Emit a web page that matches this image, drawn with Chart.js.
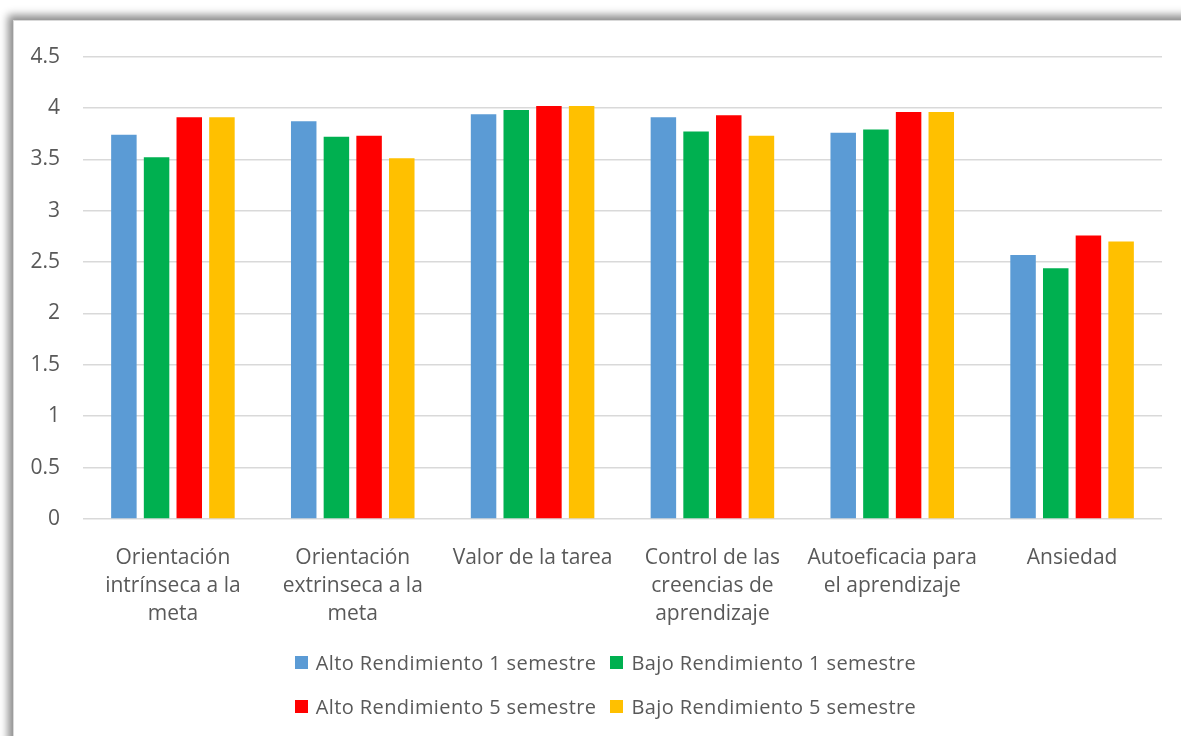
<!DOCTYPE html>
<html>
<head>
<meta charset="utf-8">
<script src="https://cdn.jsdelivr.net/npm/chart.js@4.4.1/dist/chart.umd.min.js"></script>
<style>
  html, body { margin: 0; padding: 0; background: #fff; }
  body { width: 1181px; height: 736px; overflow: hidden; position: relative; }
  #box {
    position: absolute; left: 13px; top: 20px; width: 1200px; height: 760px;
    border: 1px solid #d9d9d9; background: #fff;
    box-shadow: -5px -5px 8px rgba(0,0,0,0.45);
  }
  #myChart { position: absolute; left: 0; top: 0; }
  #legend {
    position: absolute; left: -14px; top: 619px; width: 1211px;
    font-family: "Open Sans", sans-serif; font-size: 20px; letter-spacing: 0.4px; color: #595959;
  }
  .row { display: flex; justify-content: center; height: 44px; align-items: center; }
  .item { display: flex; align-items: center; margin: 0 7px; }
  .sw { width: 13px; height: 13px; margin-right: 8px; }
</style>
</head>
<body>
<div id="box">
  <canvas id="myChart" width="1167" height="620"></canvas>
  <div id="legend"></div>
</div>
<script>
var categories = [
    ['Orientación', 'intrínseca a la', 'meta'],
    ['Orientación', 'extrinseca a la', 'meta'],
    'Valor de la tarea',
    ['Control de las', 'creencias de', 'aprendizaje'],
    ['Autoeficacia para', 'el aprendizaje'],
    'Ansiedad'
];
var seriesNames = [
    'Alto Rendimiento 1 semestre',
    'Bajo Rendimiento 1 semestre',
    'Alto Rendimiento 5 semestre',
    'Bajo Rendimiento 5 semestre'
];
var altoSem1 = [3.74, 3.87, 3.94, 3.91, 3.76, 2.57];
var bajoSem1 = [3.52, 3.72, 3.98, 3.77, 3.79, 2.44];
var altoSem5 = [3.91, 3.73, 4.02, 3.93, 3.96, 2.76];
var bajoSem5 = [3.91, 3.51, 4.02, 3.73, 3.96, 2.70];
var colors = ['#5B9BD5', '#00B050', '#FF0000', '#FFC000'];

var values = [altoSem1, bajoSem1, altoSem5, bajoSem5];
var datasets = values.map(function(v, i) {
    return {
        label: seriesNames[i],
        data: v,
        backgroundColor: colors[i],
        categoryPercentage: 0.727,
        barPercentage: 0.78
    };
});

var textColor = '#595959';
var ctx = document.getElementById('myChart').getContext('2d');
var chart = new Chart(ctx, {
    type: 'bar',
    data: { labels: categories, datasets: datasets },
    options: {
        responsive: false,
        animation: false,
        devicePixelRatio: 1,
        layout: { padding: { left: 0, right: 19, top: 28, bottom: 0 } },
        plugins: { legend: { display: false }, tooltip: { enabled: false } },
        scales: {
            x: {
                grid: { display: false },
                border: { display: false },
                ticks: {
                    color: textColor,
                    padding: 17,
                    maxRotation: 0,
                    autoSkip: false,
                    font: { family: 'Open Sans', size: 21, lineHeight: '28px' }
                },
                afterFit: function(s) { s.height = 122; }
            },
            y: {
                min: 0, max: 4.5,
                border: { display: false },
                grid: { color: '#d9d9d9', lineWidth: 1.5, drawTicks: false },
                ticks: {
                    stepSize: 0.5,
                    color: textColor,
                    padding: 23,
                    font: { family: 'Open Sans', size: 21 },
                    callback: function(v) { return String(v); }
                },
                afterFit: function(s) { s.width = 69; }
            }
        }
    }
});

// legend in two rows of two entries
var legend = document.getElementById('legend');
[[0, 1], [2, 3]].forEach(function(pair) {
    var row = document.createElement('div');
    row.className = 'row';
    pair.forEach(function(i) {
        var item = document.createElement('div');
        item.className = 'item';
        var sw = document.createElement('span');
        sw.className = 'sw';
        sw.style.background = colors[i];
        var txt = document.createElement('span');
        txt.textContent = seriesNames[i];
        item.appendChild(sw);
        item.appendChild(txt);
        row.appendChild(item);
    });
    legend.appendChild(row);
});
</script>
</body>
</html>
